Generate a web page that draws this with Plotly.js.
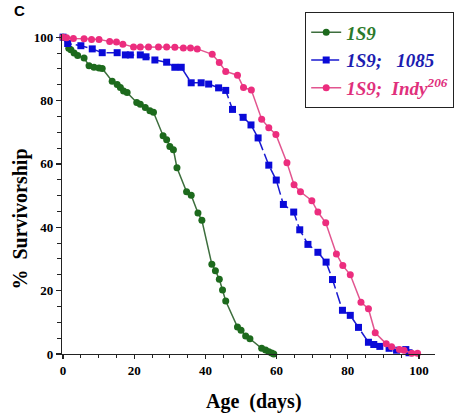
<!DOCTYPE html>
<html>
<head>
<meta charset="utf-8">
<script src="https://cdn.plot.ly/plotly-3.0.1.min.js"></script>
<style>
  html, body { margin: 0; padding: 0; background: #fff; }
  #chart { width: 466px; height: 414px; }
</style>
</head>
<body>
<div id="chart"></div>
<script>
// Survivorship (%) vs age (days) for three genotypes
const ageS9 = [0, 1.6, 2.2, 3.1, 4.1, 5.9, 7.3, 8.7, 10.1, 11, 13.8, 15.2, 16.1, 17, 18, 20.7, 21.7, 23.1, 24.4, 25.4, 28.1, 29.1, 30, 31, 32, 34.7, 36, 37.9, 39, 41.8, 42.8, 43.9, 44.8, 45.7, 49, 50, 51.3, 52.5, 55.8, 56.9, 57.8, 58.6, 59.2];
const survS9 = [100, 96.5, 96, 95, 94.2, 93.4, 91, 90.5, 90.3, 90.1, 86.1, 85.1, 84.1, 83, 82.5, 79.4, 78.8, 77.8, 76.8, 76.3, 68.9, 67.6, 65.5, 64.5, 58.8, 51.2, 50.1, 44.5, 42.2, 28.3, 26.3, 23.6, 20.2, 16.7, 8.5, 7.5, 5.7, 4.8, 1.8, 1.3, 0.7, 0.3, 0];

const age1085 = [0, 1.3, 5, 8.2, 11, 15.2, 17.5, 18.9, 21.7, 23.3, 25.8, 29.1, 31.4, 33.2, 36, 38.8, 40.9, 43.7, 45.7, 47.6, 50.6, 52.8, 54.8, 57.8, 59.9, 61.9, 64.8, 66.5, 68.8, 71.6, 73.9, 75.7, 78.5, 80.7, 83, 85.8, 87.3, 89, 91.6, 93.7, 96.3, 97.2];
const surv1085 = [100, 98, 97.3, 96.3, 95.1, 95.1, 94.4, 94.4, 94.4, 93.8, 92.8, 92.1, 90.5, 90.5, 85.6, 85.6, 85.2, 84, 83.2, 77.2, 74.7, 72.3, 68.2, 59.6, 54.9, 47.2, 44.8, 39.2, 34.6, 32.1, 29, 23.5, 13.8, 12.2, 8.4, 3.7, 3, 2.4, 1.8, 1.2, 1.4, 0.4];

const ageIndy = [0, 1, 2.9, 5.9, 8, 10.1, 13.1, 15, 16.8, 19.8, 21.7, 24, 26.8, 29.1, 31.4, 33.8, 35.8, 37.7, 41.9, 43.9, 45.7, 49, 50.7, 52.9, 55.8, 57.8, 59.8, 62.9, 64.9, 66.7, 69.9, 71.6, 73.8, 76.8, 78.6, 80.7, 83.7, 85.8, 87.7, 90.8, 92.3, 94.5, 95.8, 98, 99.6];
const survIndy = [100, 99.8, 99.6, 99.5, 99.3, 99.3, 98.6, 98.5, 97.8, 96.9, 96.9, 96.9, 96.9, 96.9, 96.8, 96.6, 96.6, 96.3, 94.6, 92, 89.2, 88, 84.1, 83.3, 74.1, 71.4, 69.3, 60.4, 53.4, 51.2, 48.4, 44.8, 41.4, 31.6, 27.9, 25, 16.3, 14.3, 6.7, 3.2, 2.3, 1.4, 1.2, 0.2, 0.2];

const seriesNames = [
  '<span style="color:#2b7a2b">1S9</span>',
  '<span style="color:#1c1cb0">1S9;\u00a0\u00a0\u00a01085</span>',
  '<span style="color:#e0307c">1S9;\u00a0 Indy<sup>206</sup></span>'
];

const xTicks = [0, 20, 40, 60, 80, 100];
const yTicks = [0, 20, 40, 60, 80, 100];

const traces = [
  {
    x: ageS9, y: survS9, name: seriesNames[0], type: 'scatter', mode: 'lines+markers',
    line: { color: '#3d6e3d', width: 1.5 },
    marker: { symbol: 'circle', size: 7, color: '#1d6a1d' },
    cliponaxis: false
  },
  {
    x: age1085, y: surv1085, name: seriesNames[1], type: 'scatter', mode: 'lines+markers',
    line: { color: '#1a1ad0', width: 1.5, dash: '12px,4px' },
    marker: { symbol: 'square', size: 7, color: '#0a0ad8' },
    cliponaxis: false
  },
  {
    x: ageIndy, y: survIndy, name: seriesNames[2], type: 'scatter', mode: 'lines+markers',
    line: { color: '#e2558f', width: 1.5 },
    marker: { symbol: 'circle', size: 7, color: '#ec2d7e' },
    cliponaxis: false
  }
];

const serif = 'Liberation Serif, Times New Roman, serif';
const tickFont = { family: serif, size: 13, color: '#000', weight: 'bold' };

const layout = {
  width: 466, height: 414,
  margin: { l: 62, r: 28, t: 31, b: 60 },
  paper_bgcolor: '#fff', plot_bgcolor: '#fff',
  showlegend: true,
  legend: {
    x: 0.652, y: 1.0675, xanchor: 'left', yanchor: 'top',
    bordercolor: '#222', borderwidth: 1, bgcolor: '#fff',
    font: { family: serif, size: 19, weight: 'bold', style: 'italic', color: '#000' },
    itemwidth: 30, tracegroupgap: 0
  },
  xaxis: {
    range: [-0.3, 104.5], showgrid: false, zeroline: false,
    showline: true, linecolor: '#222', linewidth: 1.2,
    tickmode: 'array', tickvals: xTicks, ticktext: xTicks.map(String),
    ticks: 'outside', ticklen: 4, tickwidth: 1.2, tickcolor: '#222',
    minor: { dtick: 5, tick0: 0, ticks: 'outside', ticklen: 3, tickwidth: 1, tickcolor: '#222' },
    tickfont: tickFont
  },
  yaxis: {
    range: [0, 101], showgrid: false, zeroline: false,
    showline: true, linecolor: '#222', linewidth: 1.2,
    tickmode: 'array', tickvals: yTicks, ticktext: yTicks.map(String),
    ticks: 'outside', ticklen: 5, tickwidth: 1.2, tickcolor: '#222',
    minor: { dtick: 5, tick0: 0, ticks: 'outside', ticklen: 4, tickwidth: 1, tickcolor: '#222' },
    tickfont: tickFont
  },
  annotations: [
    {
      text: 'Age\u00a0 (days)', xref: 'paper', yref: 'paper',
      x: 0.516, y: -0.1485, xanchor: 'center', yanchor: 'middle', showarrow: false,
      font: { family: serif, size: 20, weight: 'bold', color: '#000' }
    },
    {
      text: '%\u00a0 Survivorship', xref: 'paper', yref: 'paper',
      x: -0.1117, y: 0.421, xanchor: 'center', yanchor: 'middle', showarrow: false,
      textangle: -90,
      font: { family: serif, size: 20, weight: 'bold', color: '#000' }
    },
    {
      text: 'C', xref: 'paper', yref: 'paper',
      x: -0.114, y: 1.075, xanchor: 'center', yanchor: 'middle', showarrow: false,
      font: { family: 'Liberation Sans, Arial, sans-serif', size: 15, weight: 'bold', color: '#000' }
    }
  ]
};

Plotly.newPlot('chart', traces, layout, { displayModeBar: false, staticPlot: true });
</script>
</body>
</html>
